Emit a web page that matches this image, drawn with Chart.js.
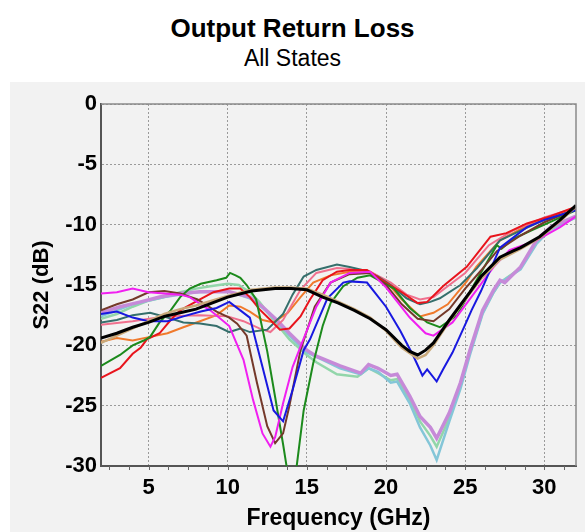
<!DOCTYPE html>
<html>
<head>
<meta charset="utf-8">
<script src="https://cdn.jsdelivr.net/npm/chart.js@4.4.0/dist/chart.umd.min.js"></script>
<style>
body{margin:0;background:#fff;width:585px;height:532px;position:relative;overflow:hidden;font-family:"Liberation Sans",Arial,sans-serif;}
#titulo{position:absolute;left:0;width:585px;top:15px;text-align:center;font-weight:bold;font-size:26px;line-height:26px;color:#000;}
#sub{position:absolute;left:0;width:585px;top:47px;text-align:center;font-size:23px;line-height:23px;color:#000;}
#caja{position:absolute;left:10px;top:82px;width:575px;height:450px;background:#f2f2f2;}
</style>
</head>
<body>
<div id="titulo">Output Return Loss</div>
<div id="sub">All States</div>
<div id="caja"><canvas id="chart" width="575" height="450"></canvas></div>
<script>
// Ejes
const xTicks = [5, 10, 15, 20, 25, 30];
const yTicks = [0, -5, -10, -15, -20, -25, -30];

// Curvas S22 (GHz, dB)
const black = [[2,-19.4],[3,-19.0],[4,-18.5],[5,-18.1],[6,-17.6],[7,-17.3],[8,-17.0],[9,-16.5],[10,-16.0],[11.5,-15.5],[13,-15.3],[14,-15.3],[15,-15.4],[16,-16.0],[17,-16.5],[18,-17.1],[19,-17.8],[20,-18.7],[21,-20.0],[21.5,-20.5],[22,-20.8],[22.5,-20.4],[23,-19.8],[24,-17.9],[25.3,-15.6],[26,-14.3],[27.2,-12.7],[28,-12.2],[28.5,-11.9],[29.7,-11.0],[31,-9.6],[32,-8.4]];
const tan = [[2,-19.8],[3,-19.2],[4,-18.6],[5,-18.0],[6,-17.4],[7,-17.0],[8,-16.7],[9,-16.3],[10,-15.9],[11.5,-15.4],[13,-15.2],[14,-15.2],[15,-15.3],[16,-15.8],[17,-16.4],[18,-17.0],[19,-17.7],[20,-18.8],[21,-20.2],[22,-21.1],[22.5,-20.8],[23,-20.0],[24,-18.0],[25.3,-15.7],[26,-14.5],[27.2,-12.9],[28.5,-12.0],[29.7,-11.1],[31,-9.7],[32,-8.5]];
const magenta = [[2,-15.7],[3,-15.6],[4,-15.3],[5,-15.6],[6,-15.7],[7,-15.8],[7.6,-16.0],[8.9,-17.1],[10.1,-18.4],[11.0,-21.2],[11.6,-24.5],[12.2,-27.3],[12.7,-28.4],[13.0,-27.6],[13.5,-24.8],[14.1,-21.8],[14.6,-20.1],[15.6,-16.8],[16.5,-14.8],[17.7,-14.0],[19,-13.9],[20,-15.2],[21.5,-17.7],[22.5,-19.0],[23,-19.2],[24.2,-18.1],[25.9,-15.1],[26.8,-13.5],[27.8,-12.1],[29.5,-11.3],[31,-10.2],[32,-9.3]];
const brown = [[2,-17.1],[3,-16.6],[4,-16.2],[5,-15.6],[6,-15.5],[7,-15.7],[8.1,-16.2],[9.3,-17.2],[10.1,-17.7],[10.6,-18.2],[11.2,-19.2],[11.85,-23.1],[12.5,-26.7],[13.0,-28.1],[13.5,-27.3],[13.9,-25.0],[14.6,-20.4],[15.5,-16.8],[16.5,-14.8],[17.7,-14.1],[19,-14.0],[20,-15.0],[21,-16.6],[22,-17.8],[23,-18.0],[24,-17.0],[25,-15.3],[26,-13.8],[27,-12.2],[28.5,-10.9],[30,-9.8],[32,-8.7]];
const blue = [[2,-17.4],[3,-17.2],[4,-17.7],[5,-18.0],[6.2,-18.0],[7.2,-17.6],[8.3,-17.2],[9.3,-16.9],[10.1,-16.4],[10.8,-17.1],[11.4,-17.7],[12.2,-21.8],[12.9,-25.4],[13.5,-26.3],[14.1,-23.7],[14.8,-20.4],[15.2,-19.5],[16.3,-16.1],[17.3,-14.8],[17.7,-14.7],[18.8,-14.8],[20.0,-16.8],[20.9,-18.8],[21.7,-20.8],[22.3,-22.5],[22.6,-22.0],[23.2,-23.0],[23.6,-22.0],[24.2,-20.6],[25.1,-18.0],[25.4,-17.1],[26,-15.5],[27.2,-11.9],[28.9,-10.2],[30,-9.6],[32,-8.8]];
const green = [[2,-21.7],[3.2,-20.8],[4.0,-20.0],[4.7,-19.6],[5.1,-19.3],[5.7,-18.1],[6.4,-17.1],[7.0,-16.0],[7.6,-15.3],[8.3,-14.9],[9.3,-14.6],[9.9,-14.4],[10.15,-14.0],[10.5,-14.2],[10.8,-14.4],[11.2,-15.0],[11.8,-16.2],[12.5,-20.5],[13.0,-24.3],[13.5,-28.2],[13.9,-31.5],[14.1,-32.5],[14.36,-30.0],[14.8,-25.4],[15.4,-21.5],[16.0,-18.4],[16.5,-16.5],[17.3,-15.1],[18.2,-14.4],[19.0,-14.2],[20.5,-15.3],[21.5,-16.9],[22.6,-18.1],[23.4,-18.5],[24.5,-17.5],[25.5,-15.1],[27,-11.7],[27.3,-12.0],[28,-11.2],[29.3,-10.4],[30.5,-9.7],[32,-8.8]];
const red = [[2,-22.7],[3.2,-21.9],[4.0,-20.7],[4.5,-20.2],[4.9,-19.5],[5.7,-19.0],[6.4,-17.9],[7.0,-17.1],[8.25,-16.2],[9.1,-15.6],[10.1,-15.3],[10.8,-15.3],[11.4,-16.0],[12.0,-17.0],[12.7,-17.9],[13.3,-18.7],[13.9,-18.6],[14.6,-17.6],[15.2,-16.2],[16.0,-14.6],[16.9,-13.9],[17.7,-13.75],[18.8,-13.75],[20,-14.8],[21,-15.6],[22,-16.5],[22.6,-16.4],[23.6,-15.1],[25.1,-13.5],[26.6,-11.0],[27.6,-10.7],[28.9,-9.9],[30.4,-9.3],[32,-8.5]];
const teal = [[2,-18.1],[3,-17.9],[4,-17.5],[5.1,-17.3],[6.2,-17.7],[7.2,-18.1],[8.25,-18.2],[9.3,-18.4],[10.1,-18.9],[10.8,-18.6],[11.4,-18.9],[12.5,-18.7],[13.5,-17.4],[14.1,-15.8],[14.8,-14.3],[15.6,-13.75],[16.9,-13.3],[17.7,-13.5],[18.5,-13.75],[19.5,-14.3],[20.3,-15.0],[21.3,-16.1],[22.15,-16.6],[22.8,-16.4],[23.4,-16.1],[24.7,-15.0],[25.75,-13.6],[27.2,-11.3],[28.5,-10.5],[30,-9.6],[32,-8.8]];
const pink = [[2,-18.3],[4,-18.0],[6,-17.6],[8.25,-17.5],[10,-17.6],[11,-18.0],[12,-18.6],[12.7,-18.9],[13.5,-17.9],[14.6,-15.4],[15.6,-14.0],[16.9,-13.6],[18,-13.7],[19,-13.9],[20.3,-14.8],[21.3,-15.8],[22.15,-16.2],[23,-16.0],[24,-15.0],[25,-14.0],[26.5,-11.7],[28,-10.5],[30,-9.4],[32,-8.6]];
const orange = [[2,-19.7],[3,-19.4],[4,-19.6],[5.1,-19.3],[6.2,-19.0],[7.2,-18.5],[8.25,-18.0],[9.3,-17.5],[10.1,-16.7],[10.8,-16.8],[11.4,-17.2],[12.2,-17.9],[12.9,-18.1],[13.8,-17.3],[14.6,-16.0],[15.4,-14.8],[16.5,-14.2],[17.7,-13.9],[19,-13.9],[20,-14.7],[21,-16.2],[22.15,-17.6],[23,-17.3],[23.9,-16.6],[25.1,-14.7],[25.7,-13.5],[27.2,-11.3],[29,-10.0],[30.5,-9.4],[32,-8.6]];
const lavender = [[2,-17.3],[3.2,-16.8],[4.5,-16.4],[5.7,-16.0],[7.0,-15.7],[8.25,-15.55],[10.1,-15.55],[11.4,-16.0],[12.2,-16.8],[13.1,-17.9],[13.9,-19.0],[15.0,-20.4],[15.6,-20.9],[17.1,-21.7],[18.4,-22.3],[18.9,-21.6],[19.5,-21.9],[20.3,-22.5],[20.7,-22.4],[21.5,-24.2],[22.15,-25.9],[22.8,-26.8],[23.2,-27.7],[24.0,-25.6],[24.7,-23.1],[25.3,-20.4],[26.1,-17.1],[26.8,-15.4],[27.2,-14.6],[27.5,-14.8],[28.5,-13.5],[29.5,-11.3],[30.4,-10.2],[32,-9.3]];
const mint = [[2,-17.8],[3,-17.4],[4,-16.8],[5,-16.3],[6,-16.0],[7,-15.6],[8,-15.3],[8.9,-15.1],[10,-14.9],[10.7,-15.0],[11.4,-15.6],[12.0,-16.4],[12.9,-17.9],[13.9,-19.5],[15,-20.8],[15.6,-21.4],[16.9,-22.4],[18.2,-22.6],[18.9,-21.9],[19.5,-22.3],[20.3,-22.9],[20.7,-22.8],[21.5,-24.5],[22.15,-26.3],[22.8,-27.5],[23.2,-28.4],[24.0,-26.0],[24.7,-23.4],[25.3,-20.6],[26.1,-17.3],[26.8,-15.6],[27.2,-14.8],[28.5,-13.6],[29.5,-11.5],[30.4,-10.4],[32,-9.4]];
const lightblue = [[2,-17.6],[4,-16.6],[6,-16.0],[8,-15.6],[10,-15.5],[11.4,-16.1],[12.2,-16.9],[13.1,-18.0],[13.9,-19.2],[15,-20.6],[16,-21.2],[17.1,-21.9],[18.4,-22.4],[18.9,-21.9],[19.5,-22.2],[20.3,-23.1],[20.7,-23.0],[21.5,-24.8],[22.15,-26.8],[22.8,-28.3],[23.2,-29.5],[24.0,-26.3],[24.7,-23.6],[25.3,-20.8],[26.1,-17.4],[26.8,-15.6],[27.2,-14.8],[28.5,-13.7],[29.5,-11.6],[30.4,-10.4],[32,-9.4]];

// --- Series ---
const series = [
    {label:'black', pts:black, color:'#000000', w:3},
    {label:'tan', pts:tan, color:'#c9a97a', w:2.5},
    {label:'blue', pts:blue, color:'#1818e0', w:2},
    {label:'magenta', pts:magenta, color:'#f020f0', w:2},
    {label:'brown', pts:brown, color:'#74392a', w:2},
    {label:'green', pts:green, color:'#1c8a1c', w:2},
    {label:'red', pts:red, color:'#e8141c', w:2},
    {label:'teal', pts:teal, color:'#356f6c', w:2},
    {label:'pink', pts:pink, color:'#f0708e', w:2},
    {label:'orange', pts:orange, color:'#f07a2c', w:2},
    {label:'lavender', pts:lavender, color:'#c68ad8', w:3.5},
    {label:'lightblue', pts:lightblue, color:'#84c6d8', w:2.5},
    {label:'mint', pts:mint, color:'#92d6aa', w:2.5}
];

const datasets = series.map(s=>({
    label:s.label,
    data:s.pts.map(p=>({x:p[0], y:p[1]})),
    borderColor:s.color,
    borderWidth:s.w,
    pointRadius:0,
    tension:0,
    fill:false
}));

// marco superior/derecho y ticks menores
const marco = {
    id:'marco',
    afterDraw(chart){
        const {ctx, chartArea:a, scales:{x}} = chart;
        ctx.save();
        ctx.strokeStyle='#8a8a8a'; ctx.lineWidth=1.5;
        ctx.beginPath();
        ctx.moveTo(a.left,a.top); ctx.lineTo(a.right,a.top); ctx.lineTo(a.right,a.bottom);
        ctx.stroke();
        ctx.strokeStyle='#666'; ctx.lineWidth=1;
        for(let v=2.5; v<32; v+=1.25){
            const px = Math.round(x.getPixelForValue(v))+0.5;
            ctx.beginPath(); ctx.moveTo(px,a.bottom); ctx.lineTo(px,a.bottom+4); ctx.stroke();
        }
        ctx.restore();
    }
};

const fuenteTick = {family:'"Liberation Sans", Arial, sans-serif', size:22, weight:'bold'};

new Chart(document.getElementById('chart'),{
    type:'line',
    data:{datasets},
    options:{
        responsive:false,
        animation:false,
        layout:{padding:{top:22, right:9, left:0, bottom:0}},
        plugins:{legend:{display:false}, tooltip:{enabled:false}},
        scales:{
            x:{
                type:'linear', min:2, max:32,
                afterBuildTicks:s=>{ s.ticks = xTicks.map(v=>({value:v})); },
                afterFit:s=>{ s.height = 66; },
                ticks:{color:'#000', font:fuenteTick, padding:9, maxRotation:0},
                grid:{color:'#9a9a9a', lineWidth:1, drawTicks:false},
                border:{display:true, color:'#555', width:2, dash:[2,2]},
                title:{display:true, text:'Frequency (GHz)', color:'#000', font:{family:'"Liberation Sans", Arial, sans-serif', size:23, weight:'bold'}, padding:{top:0, bottom:0}}
            },
            y:{
                type:'linear', min:-30, max:0,
                afterBuildTicks:s=>{ s.ticks = yTicks.map(v=>({value:v})); },
                afterFit:s=>{ s.width = 91; },
                ticks:{color:'#000', font:fuenteTick, padding:4},
                grid:{color:'#9a9a9a', lineWidth:1, drawTicks:false},
                border:{display:true, color:'#555', width:2, dash:[2,2]},
                title:{display:true, text:'S22 (dB)', color:'#000', font:{family:'"Liberation Sans", Arial, sans-serif', size:22, weight:'bold'}, padding:{top:19, bottom:0}}
            }
        }
    },
    plugins:[marco]
});
</script>
</body>
</html>
